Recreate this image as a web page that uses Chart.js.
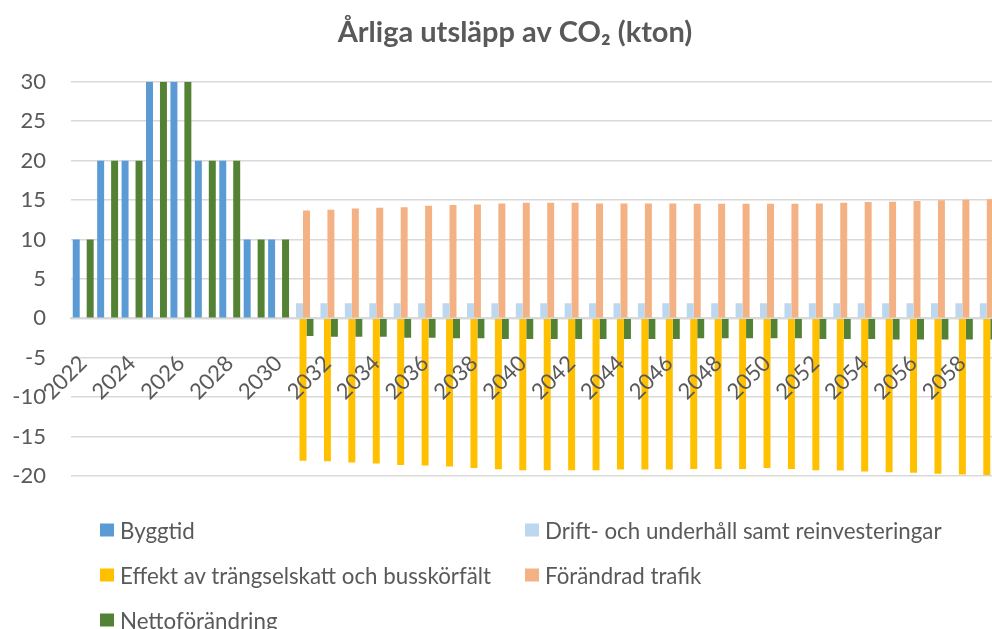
<!DOCTYPE html>
<html lang="sv">
<head>
    <meta charset="UTF-8">
    <title>Årliga utsläpp av CO2 (kton)</title>
    <style>
        html, body { margin: 0; padding: 0; overflow: hidden; background: #fff; }
        #wrap { position: relative; width: 1030px; height: 629px; }
        #legend { position: absolute; left: 0; top: 0; font-family: Lato, 'Open Sans', sans-serif; font-size: 22.3px; color: #595959; }
        .item { position: absolute; white-space: nowrap; display: flex; align-items: center; transform: translateY(-50%); }
        .box { width: 14px; height: 13px; margin-right: 6px; flex: none; }
    </style>
</head>
<body>
<div id="wrap">
    <canvas id="co2Canvas" width="1030" height="629"></canvas>
    <div id="legend"></div>
</div>

<script src="https://cdn.jsdelivr.net/npm/chart.js"></script>
<script>
    // kategorier (år)
    var years = ['2022','2023','2024','2025','2026','2027','2028','2029','2030',
        '2031','2032','2033','2034','2035','2036','2037','2038','2039','2040',
        '2041','2042','2043','2044','2045','2046','2047','2048','2049','2050',
        '2051','2052','2053','2054','2055','2056','2057','2058','2059'];

    var byggtid = [10, 20, 20, 30, 30, 20, 20, 10, 10,
        null, null, null, null, null, null, null, null, null, null,
        null, null, null, null, null, null, null, null, null, null,
        null, null, null, null, null, null, null, null, null];

    var drift = [null, null, null, null, null, null, null, null, null,
        1.9, 1.9, 1.9, 1.9, 1.9, 1.9, 1.9, 1.9, 1.9, 1.9,
        1.9, 1.9, 1.9, 1.9, 1.9, 1.9, 1.9, 1.9, 1.9, 1.9,
        1.9, 1.9, 1.9, 1.9, 1.9, 1.9, 1.9, 1.9, 1.9];

    var effekt = [null, null, null, null, null, null, null, null, null,
        -18.05, -18.13, -18.3, -18.43, -18.6, -18.68, -18.8, -19.0, -19.14, -19.27,
        -19.27, -19.27, -19.27, -19.18, -19.18, -19.18, -19.1, -19.1, -19.1, -19.0,
        -19.1, -19.27, -19.3, -19.44, -19.52, -19.6, -19.73, -19.8, -19.86];

    var trafik = [null, null, null, null, null, null, null, null, null,
        13.69, 13.77, 13.94, 14.02, 14.1, 14.27, 14.36, 14.45, 14.57, 14.65,
        14.65, 14.65, 14.57, 14.57, 14.57, 14.57, 14.53, 14.53, 14.53, 14.53,
        14.53, 14.57, 14.65, 14.74, 14.78, 14.87, 14.99, 15.03, 15.1];

    var netto = [10, 20, 20, 30, 30, 20, 20, 10, 10,
        -2.24, -2.35, -2.35, -2.35, -2.45, -2.45, -2.54, -2.54, -2.62, -2.62,
        -2.62, -2.62, -2.62, -2.62, -2.62, -2.62, -2.54, -2.54, -2.54, -2.54,
        -2.54, -2.62, -2.62, -2.62, -2.7, -2.7, -2.7, -2.7, -2.7];

    var yTicks = [-20, -15, -10, -5, 0, 5, 10, 15, 20, 25, 30];

    var textColor = '#595959';
    var fontName = "Lato, 'Open Sans', sans-serif";

    var series = [
        { label: 'Byggtid', data: byggtid, color: '#5B9BD5' },
        { label: 'Drift- och underhåll samt reinvesteringar', data: drift, color: '#BDD7EE' },
        { label: 'Effekt av trängselskatt och busskörfält', data: effekt, color: '#FFC000' },
        { label: 'Förändrad trafik', data: trafik, color: '#F4B183' },
        { label: 'Nettoförändring', data: netto, color: '#548235' }
    ];

    var ctx = document.getElementById('co2Canvas').getContext('2d');
    var co2Chart = new Chart(ctx, {
        type: 'bar',
        data: {
            labels: years,
            datasets: series.map(function (s) {
                return {
                    label: s.label,
                    data: s.data,
                    backgroundColor: s.color,
                    borderWidth: 0,
                    // bredare än sin plats -> 50 % överlapp som i Excel
                    barPercentage: 2,
                    categoryPercentage: 0.714
                };
            })
        },
        options: {
            responsive: false,
            animation: false,
            layout: { padding: { left: 0, right: 0, top: 0, bottom: 153 } },
            plugins: {
                legend: { display: false },
                tooltip: { enabled: false },
                title: {
                    display: true,
                    text: 'Årliga utsläpp av CO₂ (kton)',
                    color: textColor,
                    font: { family: fontName, size: 29, weight: 'bold' },
                    padding: { top: 15, bottom: 32 }
                }
            },
            scales: {
                x: {
                    position: { y: 0 },
                    grid: { display: false },
                    border: { display: true, color: '#d9d9d9', width: 2 },
                    ticks: {
                        z: 1, // etiketterna ovanpå staplarna
                        autoSkip: false,
                        minRotation: 45,
                        maxRotation: 45,
                        padding: 24,
                        color: textColor,
                        font: { family: fontName, size: 22 },
                        callback: function (value, index) {
                            return index % 2 === 0 ? years[index] : '';
                        }
                    }
                },
                y: {
                    min: yTicks[0],
                    max: yTicks[yTicks.length - 1],
                    afterFit: function (scale) { scale.width = 71; },
                    grid: { color: '#d9d9d9', lineWidth: 1.5, drawTicks: false },
                    border: { display: false },
                    ticks: {
                        stepSize: 5,
                        padding: 25,
                        color: textColor,
                        font: { family: fontName, size: 22 }
                    }
                },
                // tom marginal till höger om diagramytan
                yRight: {
                    position: 'right',
                    afterFit: function (scale) { scale.width = 31; },
                    grid: { display: false, drawTicks: false },
                    border: { display: false },
                    ticks: { display: false }
                }
            }
        }
    });

    // förklaring i två kolumner, som i originalet
    var legendSpots = [[100, 530], [525, 530], [100, 575], [525, 575], [100, 620]];
    var legendDiv = document.getElementById('legend');
    series.forEach(function (s, i) {
        var item = document.createElement('div');
        item.className = 'item';
        item.style.left = legendSpots[i][0] + 'px';
        item.style.top = legendSpots[i][1] + 'px';
        var box = document.createElement('span');
        box.className = 'box';
        box.style.background = s.color;
        var txt = document.createElement('span');
        txt.textContent = s.label;
        item.appendChild(box);
        item.appendChild(txt);
        legendDiv.appendChild(item);
    });
</script>
</body>
</html>
